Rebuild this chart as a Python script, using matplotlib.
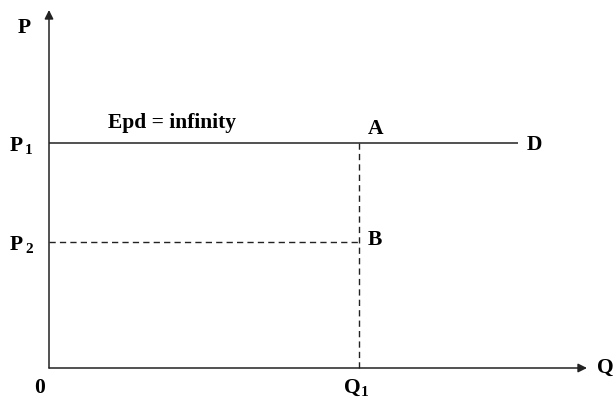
"""Perfectly elastic demand: horizontal demand curve D at price P1."""
import matplotlib

matplotlib.use("Agg")
import matplotlib.pyplot as plt

# demand curve and reference points (axis units)
P1 = 22.5
P2 = 12.6
Q1 = 31.0
D_END = 46.9
Q_MAX = 53.8
P_MAX = 35.8

FONT = dict(family="Liberation Serif", fontweight="bold", color="black")
INK = "#222222"

fig = plt.figure(figsize=(6.15, 4.0), dpi=100)
ax = fig.add_axes([0, 0, 1, 1])
ax.set_xlim(-4.9, 56.6)
ax.set_ylim(-3.2, 36.8)
ax.axis("off")

# axes with arrowheads
arrow = dict(arrowstyle="-|>", color=INK, lw=1.1, mutation_scale=13,
             shrinkA=0, shrinkB=0)
ax.annotate("", xy=(Q_MAX, 0), xytext=(0, 0), arrowprops=arrow)
ax.annotate("", xy=(0, P_MAX), xytext=(0, 0), arrowprops=arrow)

# demand curve
ax.plot([0, D_END], [P1, P1], color=INK, lw=1.1, solid_capstyle="butt")

# guide lines
dash = (0, (4.5, 3))
ax.plot([Q1, Q1], [0, P1], color=INK, lw=1.0, linestyle=dash)
ax.plot([0, Q1], [P2, P2], color=INK, lw=1.0, linestyle=dash)

fs = 15.5
sub = 11
ax.text(-2.5, 34.0, "P", fontsize=fs, ha="center", va="center", **FONT)
ax.text(54.8, 0, "Q", fontsize=fs, ha="left", va="center", **FONT)
ax.text(-0.9, -2.0, "0", fontsize=fs, ha="center", va="center", **FONT)

# price labels with subscripts
for val, s in ((P1, "1"), (P2, "2")):
    ax.text(-3.25, val - 0.3, "P", fontsize=fs, ha="center", va="center", **FONT)
    ax.text(-2.0, val - 0.75, s, fontsize=sub, ha="center", va="center", **FONT)

ax.text(Q1 - 0.7, -2.0, "Q", fontsize=fs, ha="center", va="center", **FONT)
ax.text(Q1 + 0.6, -2.45, "1", fontsize=sub, ha="center", va="center", **FONT)

ax.text(Q1 + 0.9, P1 + 1.4, "A", fontsize=fs, ha="left", va="center", **FONT)
ax.text(Q1 + 0.9, P2 + 0.2, "B", fontsize=fs, ha="left", va="center", **FONT)
ax.text(D_END + 0.9, P1 - 0.2, "D", fontsize=fs, ha="left", va="center", **FONT)
ax.text(5.9, P1 + 2.0, "Epd = infinity", fontsize=fs, ha="left", va="center", **FONT)

fig.savefig("out.png", dpi=100)
